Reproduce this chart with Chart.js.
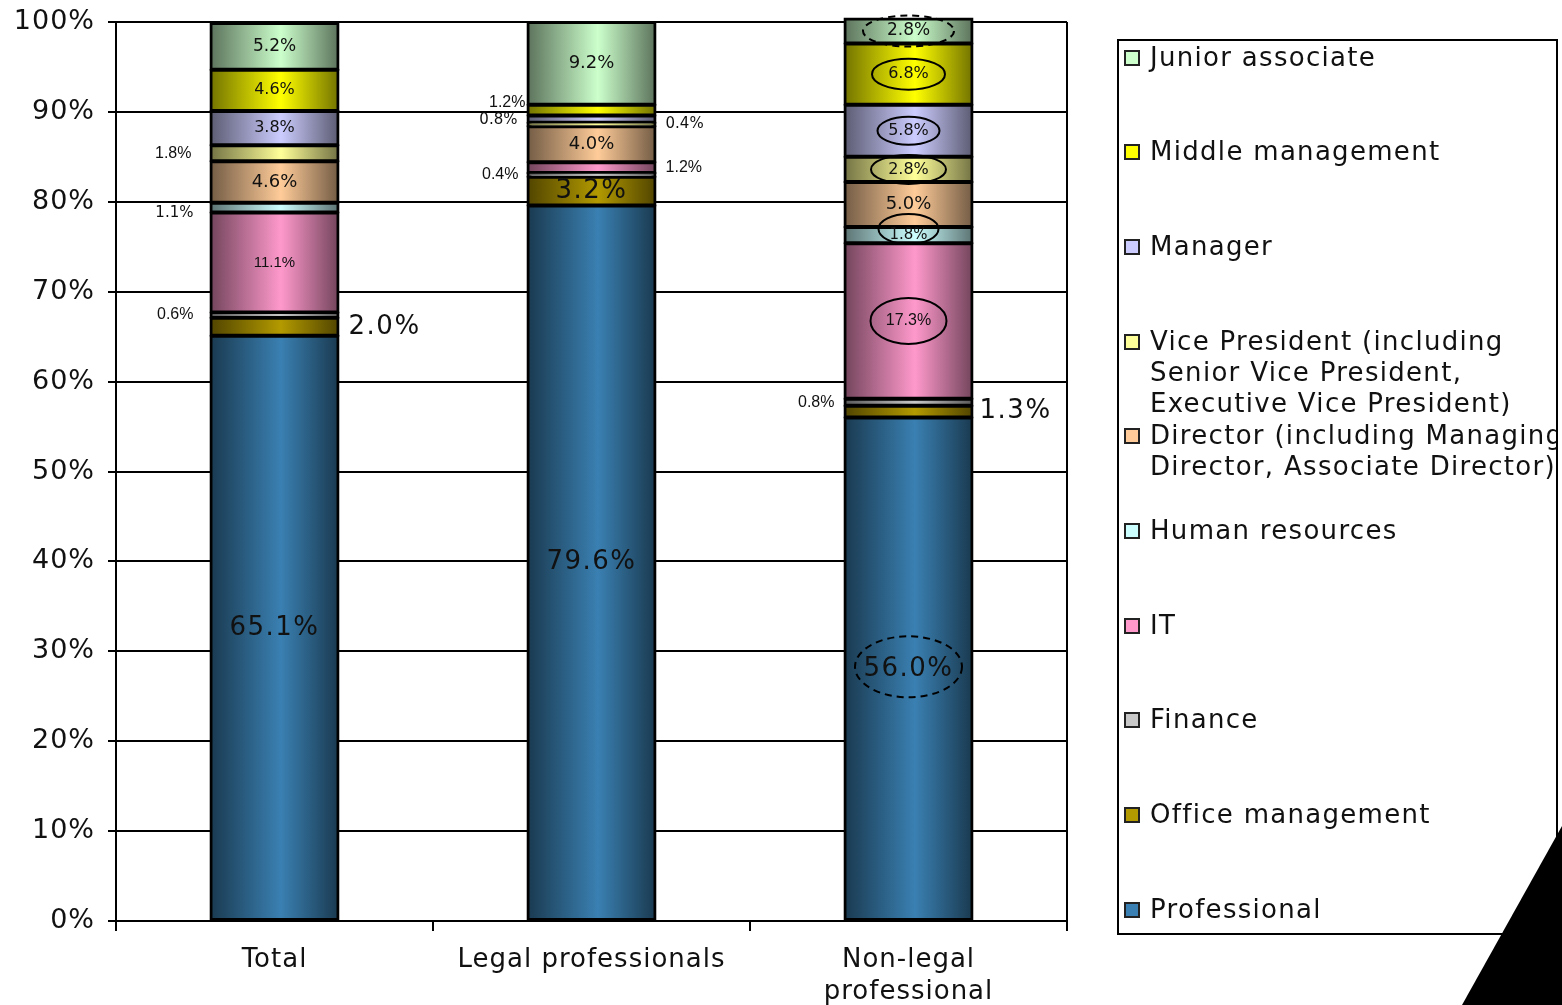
<!DOCTYPE html>
<html>
<head>
<meta charset="utf-8">
<script src="https://cdn.jsdelivr.net/npm/chart.js@4.4.1/dist/chart.umd.min.js"></script>
<style>
	html, body { margin: 0; padding: 0; background: #fff; }
	#wrap { position: relative; width: 1562px; height: 1005px; overflow: hidden; }
	#chart { position: absolute; left: 0; top: 0; }
	#legend {
		position: absolute; left: 1117px; top: 39px; width: 441px; height: 896px;
		box-sizing: border-box; border: 2px solid #000; overflow: hidden;
		font-family: "DejaVu Sans", Verdana, sans-serif; font-size: 26px; letter-spacing: 1.3px; color: #111;
	}
	.item { position: absolute; left: 31px; line-height: 31px; white-space: pre; }
	.swatch { position: absolute; left: -26px; top: 8px; width: 12px; height: 12px; border: 2px solid #222; }
	#curl {
		position: absolute; left: 1462px; top: 826px; width: 100px; height: 179px; background: #000;
		clip-path: polygon(100% 0, 100% 100%, 0 100%);
	}
</style>
</head>
<body>
<div id="wrap">
	<canvas id="chart" width="1562" height="1005"></canvas>
	<div id="legend"></div>
	<div id="curl"></div>
</div>
<script>
const categories = ["Total", "Legal professionals", ["Non-legal", "professional"]];

const seriesNames = [
	"Professional",
	"Office management",
	"Finance",
	"IT",
	"Human resources",
	"Director (including Managing\nDirector, Associate Director)",
	"Vice President (including\nSenior Vice President,\nExecutive Vice President)",
	"Manager",
	"Middle management",
	"Junior associate",
];

// percentages per category: Total, Legal, Non-legal
const professional = [65.1, 79.6, 56.0];
const officeManagement = [2.0, 3.2, 1.3];
const finance = [0.6, 0.4, 0.8];
const itStaff = [11.1, 1.2, 17.3];
const humanResources = [1.1, 0, 1.8];
const director = [4.6, 4.0, 5.0];
const vicePresident = [1.8, 0.4, 2.8];
const manager = [3.8, 0.8, 5.8];
const middleManagement = [4.6, 1.2, 6.8];
const juniorAssociate = [5.2, 9.2, 2.8];

const seriesValues = [
	professional, officeManagement, finance, itStaff, humanResources,
	director, vicePresident, manager, middleManagement, juniorAssociate,
];

const seriesColors = [
	"#3a80b2", "#b39a00", "#c8c8c8", "#ff99cc", "#ccffff",
	"#ffcc99", "#ffff99", "#ccccff", "#ffff00", "#ccffcc",
];

const V = '"DejaVu Sans", Verdana, sans-serif';
const A = '"Liberation Sans", Arial, sans-serif';
const BAR_PCT = 0.404;

// how each value label is drawn (series x category)
const labelStyle = [
	[{ pos: "in", size: 26, font: V, sp: 1.5 }, { pos: "in", size: 26, font: V, sp: 1.5 }, { pos: "in", size: 26, font: V, sp: 1.5, ell: [107, 61, true], edy: -2 }],
	[{ pos: "right", size: 26, font: V, sp: 1.5 }, { pos: "in", size: 26, font: V, sp: 1.5 }, { pos: "right", size: 26, font: V, sp: 1.5, gap: 7 }],
	[{ pos: "left", size: 16, font: A, gap: 17 }, { pos: "left", size: 16, font: A, gap: 9 }, { pos: "left", size: 16, font: A, gap: 10 }],
	[{ pos: "in", size: 15, font: A }, { pos: "right", size: 16, font: A }, { pos: "in", size: 16, font: A, ell: [76, 46] }],
	[{ pos: "left", size: 15, font: V, gap: 17, dy: 5 }, null, { pos: "in", size: 15, font: V, ell: [60, 30], edy: -6 }],
	[{ pos: "in", size: 18, font: V }, { pos: "in", size: 18, font: V }, { pos: "in", size: 18, font: V }],
	[{ pos: "left", size: 16, font: A, gap: 19 }, { pos: "right", size: 15, font: V }, { pos: "in", size: 16, font: V, ell: [75, 29] }],
	[{ pos: "in", size: 16, font: V }, { pos: "left", size: 15, font: V, dy: 1 }, { pos: "in", size: 16, font: V, ell: [62, 28] }],
	[{ pos: "in", size: 16, font: V }, { pos: "left", size: 16, font: A, gap: 2, dy: -8 }, { pos: "in", size: 16, font: V, ell: [73, 31] }],
	[{ pos: "in", size: 17, font: V }, { pos: "in", size: 18, font: V }, { pos: "in", size: 17, font: V, ell: [91, 31, true] }],
];

function shade(hex, f) {
	const n = parseInt(hex.slice(1), 16);
	const r = Math.round(((n >> 16) & 255) * f);
	const g = Math.round(((n >> 8) & 255) * f);
	const b = Math.round((n & 255) * f);
	return `rgb(${r}, ${g}, ${b})`;
}

function barFill(base) {
	return (c) => {
		const chart = c.chart;
		if (!chart.chartArea) return base;
		const xs = chart.scales.x;
		const cx = xs.getPixelForValue(c.dataIndex);
		const half = (xs.width / categories.length) * BAR_PCT / 2;
		const grad = chart.ctx.createLinearGradient(cx - half, 0, cx + half, 0);
		grad.addColorStop(0, shade(base, 0.45));
		grad.addColorStop(0.55, base);
		grad.addColorStop(1, shade(base, 0.45));
		return grad;
	};
}

const textSpacing = {
	id: "textSpacing",
	beforeLayout(chart) { chart.ctx.letterSpacing = "1px"; },
	beforeDraw(chart) { chart.ctx.letterSpacing = "1px"; },
};

const frameLine = {
	id: "frameLine",
	beforeDatasetsDraw(chart) {
		const { ctx, chartArea } = chart;
		ctx.save();
		ctx.strokeStyle = "#000";
		ctx.lineWidth = 2;
		ctx.beginPath();
		ctx.moveTo(chartArea.right, chartArea.top);
		ctx.lineTo(chartArea.right, chartArea.bottom);
		ctx.stroke();
		ctx.restore();
	},
};

const valueLabels = {
	id: "valueLabels",
	afterDatasetsDraw(chart) {
		const ctx = chart.ctx;
		chart.data.datasets.forEach((ds, d) => {
			chart.getDatasetMeta(d).data.forEach((bar, i) => {
				const st = labelStyle[d][i];
				if (!st) return;
				const mid = (bar.y + bar.base) / 2;
				const y = mid + (st.dy || 0);
				let x = bar.x;
				let align = "center";
				if (st.pos === "left") {
					x = bar.x - bar.width / 2 - (st.gap ?? 10);
					align = "right";
				} else if (st.pos === "right") {
					x = bar.x + bar.width / 2 + (st.gap ?? 10);
					align = "left";
				}
				ctx.save();
				if (st.ell) {
					ctx.strokeStyle = "#000";
					ctx.lineWidth = 2;
					ctx.setLineDash(st.ell[2] ? [7, 5] : []);
					ctx.beginPath();
					ctx.ellipse(bar.x, mid + (st.edy || 0), st.ell[0] / 2, st.ell[1] / 2, 0, 0, Math.PI * 2);
					ctx.stroke();
					ctx.setLineDash([]);
				}
				ctx.letterSpacing = (st.sp || 0) + "px";
				ctx.font = `${st.size}px ${st.font}`;
				ctx.fillStyle = "#111";
				ctx.textAlign = align;
				ctx.textBaseline = "middle";
				ctx.fillText(ds.data[i].toFixed(1) + "%", x, y);
				ctx.restore();
			});
		});
	},
};

const chart = new Chart(document.getElementById("chart"), {
	type: "bar",
	data: {
		labels: categories,
		datasets: seriesNames.map((name, s) => ({
			label: name,
			data: seriesValues[s],
			backgroundColor: barFill(seriesColors[s]),
			borderColor: "#000",
			borderWidth: 3,
			borderSkipped: false,
			inflateAmount: 1,
			barPercentage: BAR_PCT,
			categoryPercentage: 1,
			clip: false,
		})),
	},
	options: {
		responsive: false,
		animation: false,
		layout: { padding: { left: 0, right: 495, top: 22, bottom: 0 } },
		plugins: { legend: { display: false }, tooltip: { enabled: false } },
		scales: {
			x: {
				stacked: true,
				afterFit(scale) { scale.height = 84; },
				grid: { offset: true, drawOnChartArea: false, tickLength: 10, color: "#000", lineWidth: 2 },
				border: { color: "#000", width: 2 },
				ticks: {
					color: "#111",
					padding: 13,
					maxRotation: 0,
					autoSkip: false,
					font: { family: V, size: 26, lineHeight: 1.23 },
				},
			},
			y: {
				stacked: true,
				min: 0,
				max: 100,
				afterFit(scale) {
					scale.width = 116;
					scale.paddingTop = 0;
					scale.paddingBottom = 0;
				},
				grid: { color: "#000", lineWidth: 2, tickLength: 8 },
				border: { color: "#000", width: 2 },
				ticks: {
					stepSize: 10,
					color: "#111",
					padding: 13,
					font: { family: V, size: 27 },
					callback: (v) => v + "%",
				},
			},
		},
	},
	plugins: [textSpacing, frameLine, valueLabels],
});

// legend, top entry first
const legend = document.getElementById("legend");
seriesNames.slice().reverse().forEach((name, i) => {
	const s = seriesNames.length - 1 - i;
	const item = document.createElement("div");
	item.className = "item";
	item.style.top = (57 + i * 94.7 - 15.5 - 41) + "px";
	const sw = document.createElement("span");
	sw.className = "swatch";
	sw.style.background = seriesColors[s];
	item.appendChild(sw);
	item.appendChild(document.createTextNode(name));
	legend.appendChild(item);
});
</script>
</body>
</html>
